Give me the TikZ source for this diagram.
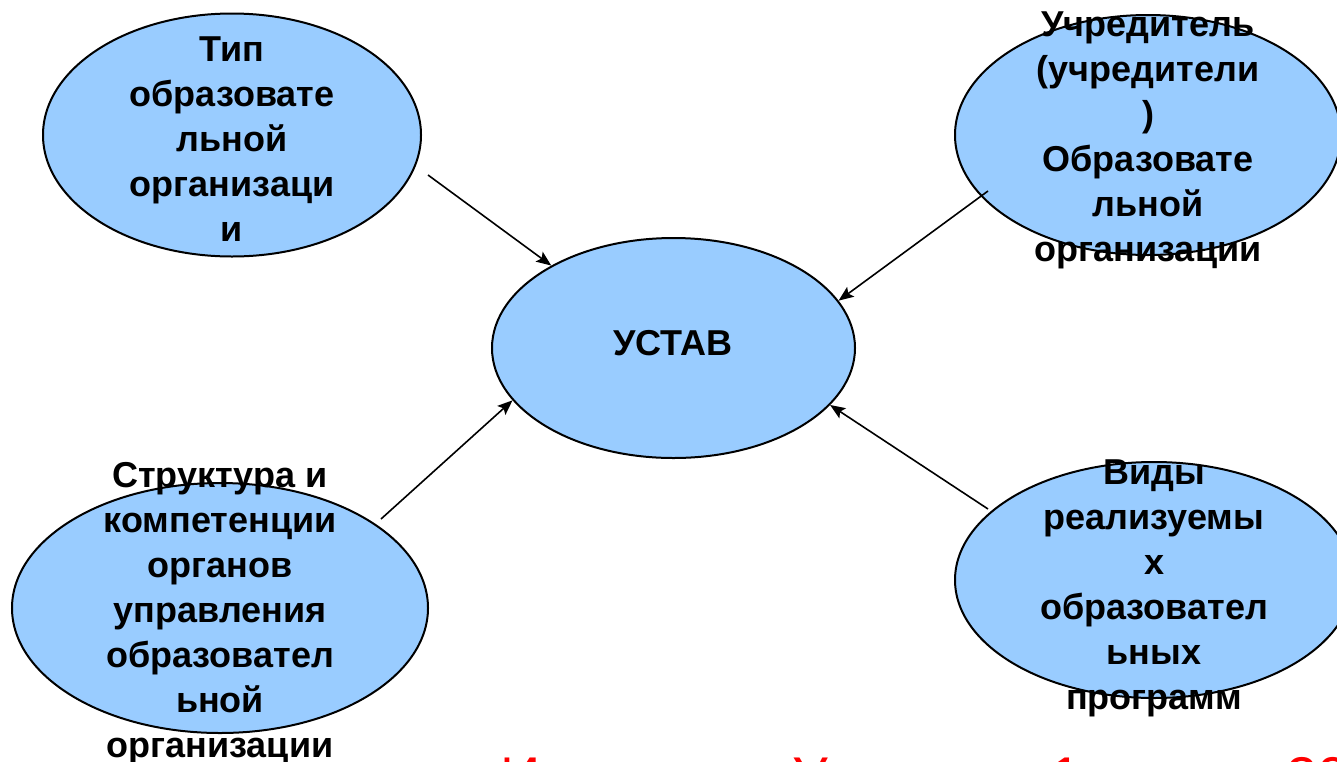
\documentclass[tikz,border=0pt]{standalone}
\usepackage{fontspec}
\setmainfont{Liberation Sans}
\usetikzlibrary{arrows.meta,shapes.geometric}
\definecolor{ovalfill}{RGB}{153,204,255}
\begin{document}
\begin{tikzpicture}[x=1pt,y=-1pt,
  oval/.style={ellipse,draw=black,line width=2pt,fill=ovalfill,inner sep=0pt},
  lbl/.style={align=center,font=\fontsize{36}{45}\selectfont\bfseries,inner sep=0pt},
  arr/.style={line width=1.6pt,-{Stealth[length=15pt,width=12pt,inset=3pt]}},
  redtxt/.style={text=red,font=\fontsize{56}{60}\selectfont,inner sep=0pt,anchor=base west}]
\useasboundingbox (0,0) rectangle (1337,761);
% ovals
\node[oval,minimum width=378pt,minimum height=243pt] (e1) at (232,135) {};
\node[oval,minimum width=386pt,minimum height=240pt] (e2) at (1148,135) {};
\node[oval,minimum width=363pt,minimum height=220pt] (e3) at (673.5,348) {};
\node[oval,minimum width=416pt,minimum height=250pt] (e4) at (220,608) {};
\node[oval,minimum width=398pt,minimum height=236pt] (e5) at (1154,580) {};
% arrow free ends
\coordinate (s1) at (428,175);
\coordinate (s2) at (988,191);
\coordinate (s3) at (381,519);
\coordinate (s4) at (988,509);
\draw[arr] (s1) -- (e3.146.5);
\draw[arr] (s2) -- (e3.16.6);
\draw[arr] (s3) -- (e3.198.9);
\draw[arr] (s4) -- (e3.-20.4);
% labels
\node[lbl] (t1) at (232,139) {Тип\\образовате\\льной\\организаци\\и};
\node[lbl] (t2) at (1148,140.5) {Учредитель\\(учредители\\)\\Образовате\\льной\\организации};
\node[lbl] (t3) at (673,343) {УСТАВ};
\node[lbl] (t4) at (220,613.5) {Структура и\\компетенции\\органов\\управления\\образовател\\ьной\\организации};
\node[lbl] (t5) at (1154,588) {Виды\\реализуемы\\х\\образовател\\ьных\\программ};
% red text, cut by the lower edge
\node[redtxt] (r1) at (500.5,796) {И};
\node[redtxt] (r2) at (792,796) {У};
\node[redtxt] (r3) at (1050,796) {1};
\node[redtxt] (r4) at (1286,796) {20};
\end{tikzpicture}
\end{document}
